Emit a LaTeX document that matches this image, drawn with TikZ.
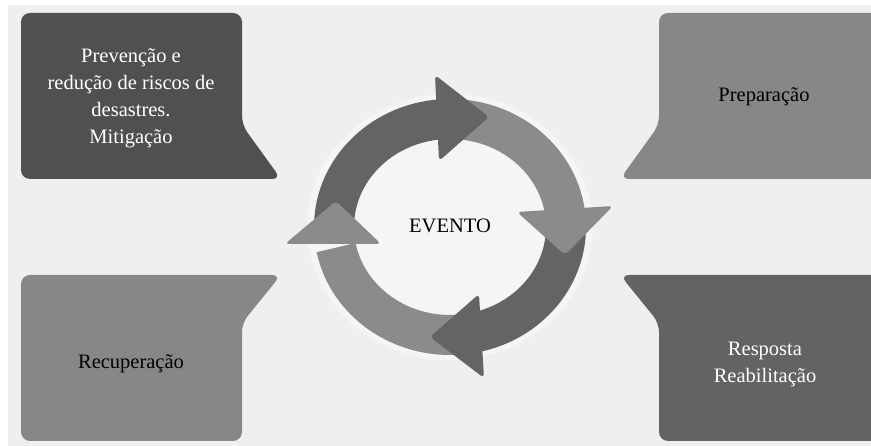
\documentclass[tikz,border=0pt]{standalone}
\usepackage{fontspec}
\setmainfont{Liberation Serif}

\definecolor{bgpanel}{HTML}{F0EFF0}
\definecolor{halo}{HTML}{F5F5F5}
\definecolor{boxdark}{HTML}{505052}
\definecolor{boxdim}{HTML}{636365}
\definecolor{boxmid}{HTML}{87878A}
\definecolor{ringdark}{HTML}{646464}
\definecolor{ringmid}{HTML}{8B8B8B}

\begin{document}
\begin{tikzpicture}[x=1pt,y=1pt,
    panel/.style={rounded corners=9pt},
    phasetext/.style={align=center,font=\fontsize{20.5}{27}\selectfont},
    ringarc/.style={line width=40pt},
    ringhead/.style={rounded corners=4pt}]
    \useasboundingbox (0,0) rectangle (871,446);
    \fill[white] (0,0) rectangle (871,446);
    \fill[bgpanel] (8,0) rectangle (871,441);

    % phase panels, each with a tab pointing to the cycle
    \fill[boxdark,panel] (21,267) -- (21,433) -- (242,433) -- (242,321) -- (281,267) -- cycle;
    \fill[boxmid,panel] (880,267) -- (880,433) -- (659,433) -- (659,321) -- (620,267) -- cycle;
    \fill[boxmid,panel] (21,5) -- (21,171) -- (281,171) -- (242,123) -- (242,5) -- cycle;
    \fill[boxdim,panel] (880,5) -- (880,171) -- (620,171) -- (659,123) -- (659,5) -- cycle;

    \node[phasetext,text=white] (prev) at (131,348) {Prevenção e\\redução de riscos de\\desastres.\\Mitigação};
    \node[phasetext] (prep) at (764,349) {Preparação};
    \node[phasetext] (recup) at (131,82) {Recuperação};
    \node[phasetext,text=white] (resp) at (765,82) {Resposta\\Reabilitação};

    % the cycle: four arcs, heads drawn last so each sits on the next arc
    \begin{scope}[shift={(450,219)},xscale=1.074]
        \fill[halo] (0,0) circle (133);
        \draw[ringdark,ringarc] (182:108) arc (182:94:108);
        \draw[ringmid,ringarc] (86:108) arc (86:8:108);
        \draw[ringdark,ringarc] (0:108) arc (0:-77:108);
        \draw[ringmid,ringarc] (-85:108) arc (-85:-169:108);
    \end{scope}
    \fill[ringdark,ringhead] (435,371) -- (489,329) -- (439,285) -- cycle;
    \fill[ringmid,ringhead] (517,234) -- (565,191) -- (613,240) -- cycle;
    \fill[ringdark,ringhead] (479,152) -- (430,109) -- (484,68) -- cycle;
    \fill[ringmid,ringhead] (285,202) -- (336,245) -- (381,202) -- cycle;
    \node[phasetext] (evento) at (450,220) {EVENTO};
\end{tikzpicture}
\end{document}
